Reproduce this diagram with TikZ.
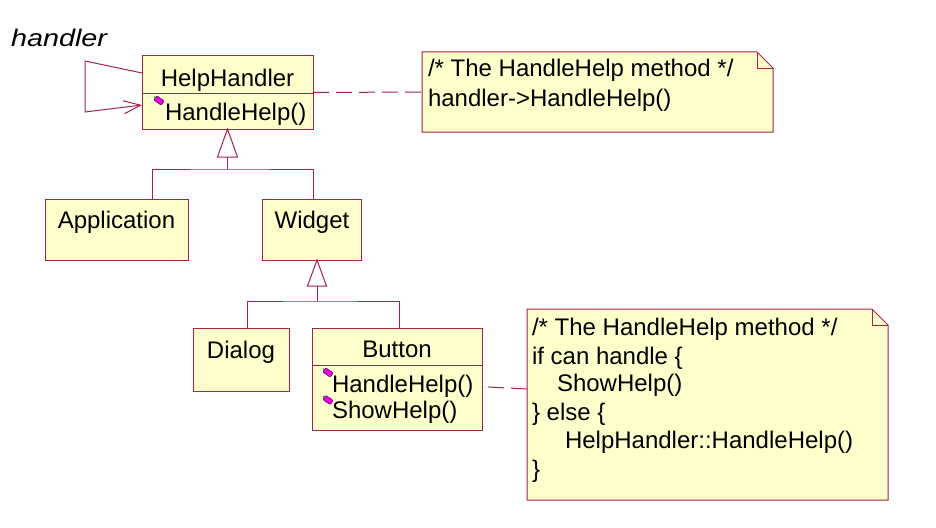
\documentclass[tikz,border=0pt]{standalone}
\usepackage{fontspec}
\setmainfont{Liberation Sans}
\usetikzlibrary{arrows.meta,calc}
\definecolor{umlline}{RGB}{165,35,75}
\definecolor{umlfill}{RGB}{255,255,204}
\definecolor{opmag}{RGB}{235,0,235}
\definecolor{opedge}{RGB}{120,0,110}
\definecolor{opgreen}{RGB}{0,170,60}
\begin{document}
\begin{tikzpicture}[x=1pt,y=-1pt,
  every node/.style={font=\fontsize{24}{28}\selectfont, inner sep=0pt, outer sep=0pt, text=black},
  cls/.style={draw=umlline, fill=umlfill, line width=1pt, rectangle, anchor=north west},
  notebox/.style={draw=none, fill=none, rectangle, anchor=north west},
  link/.style={draw=umlline, line width=1pt},
  dashlink/.style={link, dash pattern=on 16pt off 7pt},
  txt/.style={anchor=base west},
  ctxt/.style={anchor=base},
  opicon/.pic={
    \filldraw[fill=opmag, draw=opedge, line width=0.6pt, rounded corners=1pt, rotate=-35] (-4.5,-2.6) rectangle (4.5,2.6);
    \fill[opgreen] (-4.2,-3.2) circle (1.2pt);
  }
]
\useasboundingbox (0,0) rectangle (936,527);
\fill[white] (0,0) rectangle (936,527);

% ---------- classes ----------
\node[cls, minimum width=171pt, minimum height=73pt] (hh) at (142,56) {};
\draw[link] ($(hh.north west)+(0,37)$) -- ($(hh.north east)+(0,37)$);
\node[ctxt] (hhname) at (227.5,86) {HelpHandler};
\node[txt] (hhop) at (165,120) {HandleHelp()};
\pic at (159,100.5) {opicon};

\node[cls, minimum width=143pt, minimum height=61pt] (app) at (45,199) {};
\node[ctxt] (appname) at (116.5,228) {Application};

\node[cls, minimum width=99pt, minimum height=61pt] (wid) at (262,199) {};
\node[ctxt] (widname) at (312,228) {Widget};

\node[cls, minimum width=96pt, minimum height=63pt] (dlg) at (193,328) {};
\node[ctxt] (dlgname) at (241,358) {Dialog};

\node[cls, minimum width=170pt, minimum height=102pt] (btn) at (312,328) {};
\draw[link] ($(btn.north west)+(0,37)$) -- ($(btn.north east)+(0,37)$);
\node[ctxt] (btnname) at (397,357) {Button};
\node[txt] (btnop1) at (332,392) {HandleHelp()};
\node[txt] (btnop2) at (332,418) {ShowHelp()};
\pic at (328,372.5) {opicon};
\pic at (328,400) {opicon};

% ---------- self association ----------
\node[anchor=base west, font=\fontsize{24}{28}\selectfont\itshape] (role) at (11,47) {\scalebox{1.2}[1]{handler}};
\draw[link, -{Straight Barb[length=17pt,width=13pt]}]
  ($(hh.west)+(0,-19.5)$) -- ++(-57,-12) -- ++(0,51) -- ($(hh.west)+(0,12.5)$);

% ---------- generalizations ----------
\draw[link, fill=white] (hh.south) -- ++(-10,28) -- ++(20,0) -- cycle;
\coordinate (g1) at ($(hh.south)+(0,28)$);
\coordinate (j1) at ($(g1)+(0,12)$);
\draw[link] (g1) -- (j1);
\draw[link] ($(app.north west)+(107,0)$) |- (j1) -| ($(wid.north west)+(51,0)$);

\coordinate (t2) at ($(wid.south west)+(55,0)$);
\draw[link, fill=white] (t2) -- ++(-9.5,26) -- ++(19,0) -- cycle;
\coordinate (g2) at ($(t2)+(0,26)$);
\coordinate (j2) at ($(g2)+(0,15)$);
\draw[link] (g2) -- (j2);
\draw[link] ($(dlg.north west)+(54,0)$) |- (j2) -| ($(btn.north west)+(87,0)$);

% ---------- notes ----------
\node[notebox, minimum width=351pt, minimum height=80pt] (n1) at (422,52) {};
\filldraw[link, fill=umlfill] (n1.north west) -- ($(n1.north east)+(-16,0)$) -- ($(n1.north east)+(0,16)$) -- (n1.south east) -- (n1.south west) -- cycle;
\draw[link] ($(n1.north east)+(-16,0)$) |- ($(n1.north east)+(0,16)$);
\node[txt] (n1a) at (428,76) {/* The HandleHelp method */};
\node[txt] (n1b) at (428,106) {handler->HandleHelp()};

\node[notebox, minimum width=361pt, minimum height=191pt] (n2) at (527,309) {};
\filldraw[link, fill=umlfill] (n2.north west) -- ($(n2.north east)+(-16,0)$) -- ($(n2.north east)+(0,16)$) -- (n2.south east) -- (n2.south west) -- cycle;
\draw[link] ($(n2.north east)+(-16,0)$) |- ($(n2.north east)+(0,16)$);
\node[txt] (n2a) at (532,335) {/* The HandleHelp method */};
\node[txt] (n2b) at (532,364) {if can handle \{};
\node[txt] (n2c) at (557,391) {ShowHelp()};
\node[txt] (n2d) at (532,420) {\} else \{};
\node[txt] (n2e) at (565,448) {HelpHandler::HandleHelp()};
\node[txt] (n2f) at (532,477) {\}};

% ---------- note anchors ----------
\draw[dashlink] (hh.east) -- (n1.west);
\draw[dashlink] ($(btn.east)+(6,8)$) -- ($(n2.west)+(0,-15.5)$);
\end{tikzpicture}
\end{document}
